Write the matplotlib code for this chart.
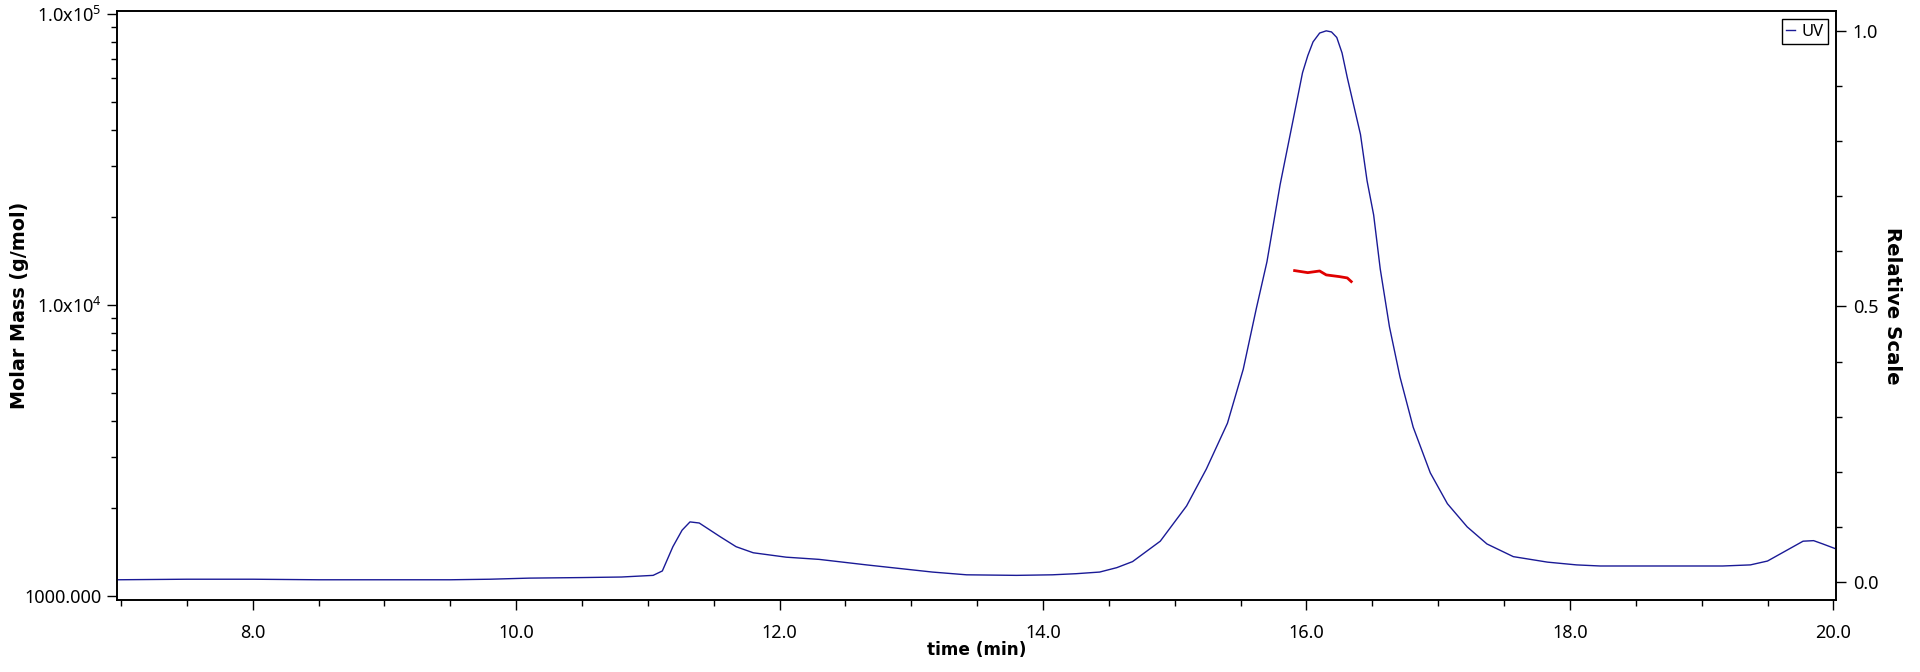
import matplotlib
matplotlib.use("Agg")
import matplotlib.pyplot as plt
from matplotlib.ticker import FixedLocator, MultipleLocator, FuncFormatter, LogLocator, NullFormatter

plt.rcParams['font.family'] = ['Noto Sans', 'DejaVu Sans']
plt.rcParams['mathtext.fontset'] = 'custom'
plt.rcParams['mathtext.rm'] = 'Noto Sans'

# UV trace (relative scale)
uv_time = [6.97, 7.5, 8.0, 8.5, 9.0, 9.5, 9.8, 10.1, 10.5, 10.8, 11.04, 11.11, 11.19,
           11.26, 11.32, 11.39, 11.55, 11.67, 11.80, 12.05, 12.30, 12.66, 13.16, 13.42,
           13.8, 14.07, 14.25, 14.43, 14.56, 14.68, 14.89, 15.09, 15.24, 15.40, 15.52,
           15.62, 15.70, 15.80, 15.90, 15.97, 16.01, 16.05, 16.10, 16.15, 16.19, 16.23,
           16.27, 16.31, 16.41, 16.46, 16.51, 16.56, 16.63, 16.71, 16.81, 16.94, 17.07,
           17.22, 17.37, 17.57, 17.83, 18.05, 18.23, 18.74, 19.16, 19.37, 19.50, 19.65,
           19.77, 19.85, 19.92, 20.02]
uv_rel = [0.004, 0.005, 0.005, 0.004, 0.004, 0.004, 0.005, 0.007, 0.008, 0.009, 0.012,
          0.020, 0.064, 0.094, 0.109, 0.107, 0.082, 0.064, 0.053, 0.045, 0.041, 0.031,
          0.018, 0.013, 0.012, 0.013, 0.015, 0.018, 0.026, 0.037, 0.074, 0.138, 0.205,
          0.288, 0.386, 0.497, 0.581, 0.721, 0.840, 0.924, 0.955, 0.980, 0.996, 1.000,
          0.998, 0.988, 0.960, 0.915, 0.812, 0.728, 0.666, 0.568, 0.463, 0.372, 0.281,
          0.198, 0.142, 0.100, 0.069, 0.046, 0.036, 0.031, 0.029, 0.029, 0.029, 0.031,
          0.038, 0.058, 0.074, 0.075, 0.069, 0.060]

# Molar mass trace
mm_time = [15.91, 16.01, 16.10, 16.15, 16.25, 16.31, 16.34]
mm_mass = [13120, 12910, 13080, 12680, 12510, 12380, 12030]

x_major = [8.0, 10.0, 12.0, 14.0, 16.0, 18.0, 20.0]
rel_major = [0.0, 0.5, 1.0]
mass_major = [1000, 10000, 100000]
mass_labels = ['1000.000', r'1.0x10$^{4}$', r'1.0x10$^{5}$']

fig = plt.figure(figsize=(19.2, 6.72), dpi=100)
ax = fig.add_axes([117/1920, 72/672, (1836-117)/1920, (600-11)/672])
ax2 = ax.twinx()

ax.set_yscale('log')
ax.set_xlim(6.97, 20.02)
ax.set_ylim(10**2.986, 10**5.01)
ax2.set_ylim(-0.0327, 1.036)

blue = '#1a1a96'
ln_uv, = ax2.plot(uv_time, uv_rel, color=blue, lw=1.0, label='UV')
ax.plot(mm_time, mm_mass, color='#e00000', lw=2.0)

# x axis
ax.xaxis.set_major_locator(FixedLocator(x_major))
ax.xaxis.set_minor_locator(MultipleLocator(0.5))
ax.xaxis.set_major_formatter(FuncFormatter(lambda v, p: f"{v:.1f}"))

# left log axis
def mass_fmt(v, p):
    r = int(round(v))
    return mass_labels[mass_major.index(r)] if r in mass_major else ''
ax.yaxis.set_major_locator(FixedLocator(mass_major))
ax.yaxis.set_major_formatter(FuncFormatter(mass_fmt))
ax.yaxis.set_minor_locator(LogLocator(base=10, subs=range(2, 10)))
ax.yaxis.set_minor_formatter(NullFormatter())

# right axis
ax2.yaxis.set_major_locator(FixedLocator(rel_major))
ax2.yaxis.set_minor_locator(MultipleLocator(0.1))
ax2.yaxis.set_major_formatter(FuncFormatter(lambda v, p: f"{v:.1f}"))

for a in (ax, ax2):
    a.tick_params(axis='both', which='major', length=7, width=1, labelsize=13, direction='out', color='black')
    a.tick_params(axis='both', which='minor', length=4, width=1, direction='out')
    for s in a.spines.values():
        s.set_linewidth(1.2)

ax.tick_params(axis='x', pad=10)
ax.tick_params(axis='y', pad=4)
ax2.tick_params(axis='y', pad=5)

bold_fam = ['DejaVu Sans']
ax.set_xlabel('time (min)', fontsize=12.2, fontweight='bold', family=bold_fam)
ax.set_ylabel('Molar Mass (g/mol)', fontsize=13.8, fontweight='bold', family=bold_fam)
ax2.set_ylabel('Relative Scale', rotation=270, va='center', fontsize=14.2,
               fontweight='bold', family=bold_fam)
ax.xaxis.set_label_coords(0.5, (650 - 600) / -589.0)
ax.xaxis.label.set_va('center')
ax.yaxis.set_label_coords((19 - 117) / 1719.0, 0.5)
ax.yaxis.label.set_va('center')
ax2.yaxis.set_label_coords((1893 - 117) / 1719.0, 0.5)

leg = ax2.legend(handles=[ln_uv], loc='upper right', fontsize=12, handlelength=0.5,
                 handletextpad=0.4, borderpad=0.25, borderaxespad=0.5, fancybox=False,
                 framealpha=1)
leg.get_frame().set_edgecolor('black')
leg.get_frame().set_linewidth(1.0)

fig.savefig('out.png', dpi=100, facecolor='white')
